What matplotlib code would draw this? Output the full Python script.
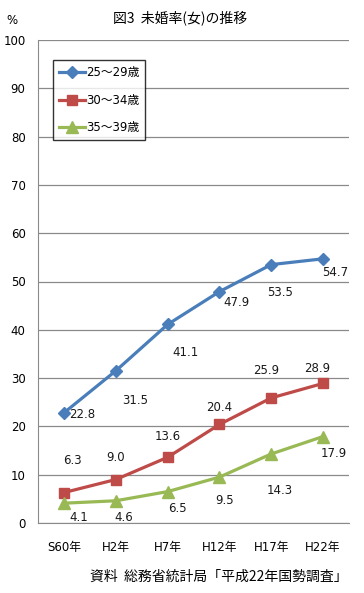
import matplotlib
matplotlib.use("Agg")
import matplotlib.pyplot as plt

plt.rcParams['font.family'] = ['DejaVu Sans', 'Noto Sans CJK JP']

categories = ["S60年", "H2年", "H7年", "H12年", "H17年", "H22年"]
series_names = ["25〜29歳", "30〜34歳", "35〜39歳"]
s25 = [22.8, 31.5, 41.1, 47.9, 53.5, 54.7]
s30 = [6.3, 9.0, 13.6, 20.4, 25.9, 28.9]
s35 = [4.1, 4.6, 6.5, 9.5, 14.3, 17.9]
yticks = [0, 10, 20, 30, 40, 50, 60, 70, 80, 90, 100]

colors = ["#4A7EBB", "#BE4B48", "#98B954"]
markers = ["D", "s", "^"]
msizes = [6, 7, 8]
# label offsets in points (dx, dy) for each series
offs = [
    [(13, -1), (14, -21), (13, -20), (12, -8), (6, -20), (9, -10)],
    [(6, 23), (0, 16), (0, 15), (0, 12), (-4, 20), (-4, 11)],
    [(11, -10), (6, -12), (7, -12), (4, -17), (6, -26), (8, -12)],
]

fig = plt.figure(figsize=(3.64, 5.93), dpi=100)
ax = fig.add_axes([38/364, 70/593, 311/364, 483/593])
x = list(range(len(categories)))
for vals, c, m, ms, name, off in zip([s25, s30, s35], colors, markers, msizes, series_names, offs):
    ax.plot(x, vals, color=c, lw=2.3, marker=m, ms=ms, label=name, zorder=3)
    for xi, v, (dx, dy) in zip(x, vals, off):
        ax.annotate(f"{v:.1f}", (xi, v), xytext=(dx, dy), textcoords="offset points",
                    ha="center", va="center", fontsize=8.5, color="#1a1a1a")

ax.set_xlim(-0.5, len(categories) - 0.5)
ax.set_ylim(0, 100)
ax.set_yticks(yticks)
ax.set_xticks(x)
ax.set_xticklabels(categories, fontsize=8.5,
                   fontfamily=['DejaVu Sans', 'Noto Sans CJK JP'])
ax.tick_params(axis='both', length=0, labelsize=8.5)
ax.tick_params(axis='x', pad=13)
ax.tick_params(axis='y', pad=9)
ax.grid(axis='y', color="#8a8a8a", lw=0.9)
ax.set_axisbelow(True)
for s in ["top", "right"]:
    ax.spines[s].set_visible(False)
ax.spines["left"].set_color("#8a8a8a")
ax.spines["bottom"].set_color("#8a8a8a")

leg = ax.legend(loc="upper left", bbox_to_anchor=(15/311, 1 - 20/483),
                frameon=True, fancybox=False, edgecolor="black", borderpad=0.5,
                borderaxespad=0, labelspacing=1.25, handlelength=2.2, handletextpad=0.1,
                prop={'family': ['DejaVu Sans', 'Noto Sans CJK JP'], 'size': 8.5})
leg.get_frame().set_linewidth(1.0)

fig.text(180/364, 1 - 18/593, "図3  未婚率(女)の推移", ha="center", va="center",
         fontsize=10, family=['Noto Sans CJK JP', 'DejaVu Sans'])
fig.text(12/364, 1 - 20/593, "%", ha="center", va="center", fontsize=8.5)
fig.text(348/364, 1 - 577/593, "資料  総務省統計局「平成22年国勢調査」", ha="right", va="center",
         fontsize=10, family=['Noto Sans CJK JP', 'DejaVu Sans'])

fig.savefig("out.png", dpi=100)
